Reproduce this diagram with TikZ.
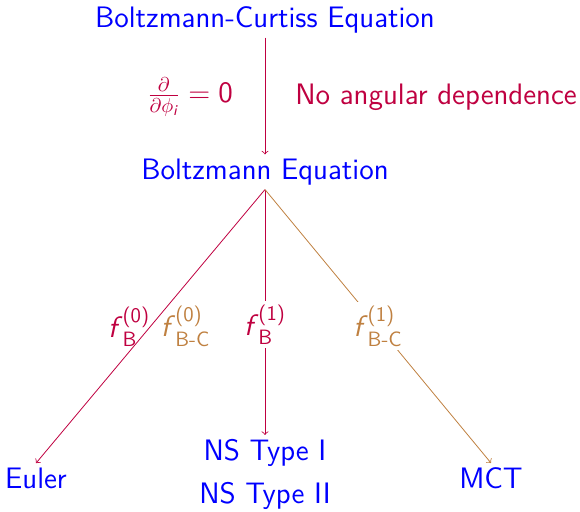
\documentclass[tikz,border=0pt]{standalone}
\usepackage{amsmath}
\usepackage{fontspec}
\newcommand{\flab}[2]{$\textsl{f\/}^{\textsf{(#1)}}_{\textsf{#2}}$}
\begin{document}
\begin{tikzpicture}[x=0.5pt,y=-0.5pt,
  every node/.style={font=\sffamily\fontsize{14.8}{17}\selectfont, inner sep=2pt},
  eq/.style={text=blue},
  pl/.style={text=purple},
  bl/.style={text=brown},
  parr/.style={draw=purple,->},
  barr/.style={draw=brown,->}]
\useasboundingbox (0,0) rectangle (580,512);
\node[eq] (BC) at (265,20) {Boltzmann-Curtiss Equation};
\node[eq] (BE) at (265,172) {Boltzmann Equation};
\node[eq] (EU) at (36,478) {Euler};
\node[eq] (NS1) at (265,453) {NS Type I};
\node[eq] (NS2) at (265,496) {NS Type II};
\node[eq] (MCT) at (491,478) {MCT};
\node[pl] (dl) at (190,97) {$\frac{\partial}{\partial\phi_{\textsl{i}}} = \textsf{0}$};
\node[pl,anchor=west] (nl) at (291,97) {No angular dependence};
\draw[parr] (BC.south) -- (BE.north);
\draw[parr] (BE.south) -- node[pos=0.5,anchor=east,pl,inner sep=0pt] (l0) {\flab{0}{B}}
  node[pos=0.5,anchor=west,bl,inner sep=5pt] (l0c) {\flab{0}{B-C}} (EU.north);
\draw[parr] (BE.south) -- node[pos=0.55,fill=white,pl] (l1) {\flab{1}{B}} (NS1.north);
\draw[barr] (BE.south) -- node[pos=0.5,fill=white,bl] (l1c) {\flab{1}{B-C}} (MCT.north);
\end{tikzpicture}
\end{document}
